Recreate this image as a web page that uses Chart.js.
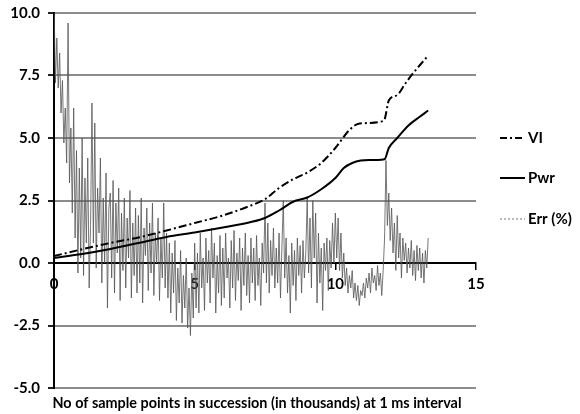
<!DOCTYPE html>
<html><head><meta charset="utf-8">
<script src="https://cdn.jsdelivr.net/npm/chart.js@4/dist/chart.umd.min.js"></script>
<style>html,body{margin:0;padding:0;background:#fff}canvas{display:block}</style>
</head><body><canvas id="c" width="580" height="414"></canvas>
<script>
// ---- data ----
const xTitle = "No of sample points in succession (in thousands) at 1 ms interval";
const seriesNames = ["VI", "Pwr", "Err (%)"];

const viX  = [0, 1, 2, 3, 4, 5, 6, 7, 7.5, 8, 8.5, 9, 9.5, 10, 10.5, 10.8, 11.2, 11.6, 11.75, 11.9, 12.2, 12.5, 12.8, 13.3];
const viY  = [0.28, 0.55, 0.8, 1.02, 1.3, 1.6, 1.9, 2.3, 2.55, 3.0, 3.35, 3.62, 4.0, 4.6, 5.32, 5.56, 5.6, 5.65, 5.75, 6.5, 6.72, 7.2, 7.64, 8.3];

const pwrX = [0, 0.5, 1, 2, 3, 4, 5, 6, 7, 7.5, 8, 8.5, 9, 9.5, 10, 10.3, 10.6, 10.9, 11.2, 11.5, 11.75, 11.9, 12.2, 12.6, 13.0, 13.3];
const pwrY = [0.2, 0.28, 0.36, 0.56, 0.8, 1.04, 1.22, 1.42, 1.64, 1.8, 2.1, 2.45, 2.62, 2.95, 3.4, 3.8, 4.0, 4.1, 4.12, 4.12, 4.15, 4.6, 5.0, 5.5, 5.85, 6.1];

// Err (%) sampled every 0.05 thousand points, starting at 0
const errStart = 0, errStep = 0.05;
const errY = [
 10.5, 7.2, 9.0, 7.0, 8.4, 6.0, 7.3, 4.8, 6.2, 4.0, 9.6, 3.2, 5.4, 2.0, 6.2, 1.0, 4.5, -0.4, 3.8, 0.2,
 5.0, -0.5, 3.4, 0.8, 4.2, -1.0, 1.5, 6.4, 0.8, 5.6, -0.2, 3.0, 1.2, 4.2, -0.8, 2.6, 0.0, 3.6, -1.8, 2.2,
 2.8, -0.6, 3.3, -1.2, 2.4, 0.4, 3.0, -1.5, 2.0, -0.3, 2.6, -1.0, 1.8, 0.2, 2.9, -1.4, 1.6, -0.5, 2.2, -1.2,
 1.9, -0.8, 2.6, -1.6, 1.4, 0.3, 2.2, -1.1, 1.6, -0.4, 2.4, -1.3, 1.2, 0.0, 1.8, -1.5, 1.0, -0.6, 2.4, -1.0,
 1.2, -1.4, 0.8, -2.0, 0.4, -1.2, 0.9, -2.3, -0.2, -1.6, 0.5, -2.4, -0.5, -1.8, 0.2, -2.6, -1.0, -2.9, -0.4, -2.2,
 0.8, -1.8, 0.4, -2.0, 1.2, -1.0, 0.2, -1.9, 1.0, -0.8, 0.5, -1.6, 1.4, -0.6, 0.8, -2.0, 0.3, -1.2, 1.1, -1.7,
 0.6, -1.4, 1.2, -0.6, 0.2, -1.8, 0.9, -1.0, 1.3, -1.5, 0.4, -0.7, 1.0, -1.9, 0.6, -0.9, 1.2, -1.3, 0.3, -1.6,
 1.0, -0.8, 0.6, -1.5, 1.1, -0.9, 0.2, -1.7, 0.8, -0.4, 2.4, -0.8, 1.6, -1.2, 0.9, -0.5, 1.4, -1.0, 0.6, -0.8,
 1.2, -1.4, 0.6, 2.5, -0.6, 1.0, -1.2, 0.3, -2.0, 0.8, -0.9, 0.5, -1.5, 1.0, -0.5, 0.7, -1.2, 0.9, -0.6, 0.4,
 2.6, -0.4, 1.8, -1.0, 2.5, 0.2, 2.0, -1.6, 1.2, -0.8, 0.6, -1.9, 0.8, -0.3, 1.0, -1.1, 0.9, -0.2, 1.6, 0.0,
 2.0, 0.2, 1.8, -0.3, 1.2, -0.6, 0.4, -0.9, -0.2, -1.2, -0.5, -1.0, -0.3, -1.4, -0.8, -1.5, -0.9, -1.7, -1.1, -1.3,
 -0.8, -1.4, -0.6, -1.0, -0.4, -1.2, -0.2, -0.8, -0.5, -1.1, -0.1, -0.9, -0.4, -1.3, -0.3, 1.0, 4.1, 1.5, 2.8, 0.9,
 2.2, 0.4, 1.6, -0.3, 1.9, 0.2, 1.2, -0.6, 1.0, 0.1, 0.8, -0.4, 0.6, -0.2, 0.9, -0.5, 0.5, -0.7, 0.7, -0.3,
 0.6, -0.6, 0.4, -0.8, 0.5, -0.2, 1.0
];

const xMin = 0, xMax = 15, xStep = 5;
const yMin = -5, yMax = 10, yStep = 2.5;

// ---- build library tables ----
const pts = (xs, ys) => ys.map((y, i) => ({x: xs[i], y}));
const errPts = errY.map((y, i) => ({x: +(errStart + i * errStep).toFixed(2), y}));

const FONT = "Lato, 'Open Sans', sans-serif";

const annotPlugin = {
  id: 'sideLegend',
  afterDraw(chart) {
    const ctx = chart.ctx;
    const items = [
      {y: 138, dash: [7, 3, 2, 3], w: 2, c: '#000'},
      {y: 178, dash: [], w: 2, c: '#000'},
      {y: 219, dash: [2, 2], w: 1, c: '#777'}
    ];
    ctx.save();
    items.forEach((it, i) => {
      ctx.beginPath();
      ctx.setLineDash(it.dash);
      ctx.lineWidth = it.w;
      ctx.strokeStyle = it.c;
      ctx.moveTo(500, it.y);
      ctx.lineTo(525, it.y);
      ctx.stroke();
      ctx.setLineDash([]);
      ctx.fillStyle = '#000';
      ctx.font = "bold 15px " + FONT;
      ctx.textBaseline = 'middle';
      ctx.textAlign = 'left';
      ctx.fillText(seriesNames[i], 528, it.y);
    });
    // x-axis title, below the plot
    ctx.font = "bold 14.4px " + FONT;
    ctx.textAlign = 'center';
    ctx.textBaseline = 'middle';
    ctx.fillText(xTitle, 257, 403);
    ctx.restore();
  }
};

new Chart(document.getElementById('c'), {
  type: 'line',
  data: {
    datasets: [
      {label: seriesNames[0], data: pts(viX, viY), borderColor: '#000', borderWidth: 2,
       borderDash: [8, 3, 2, 3], pointRadius: 0, cubicInterpolationMode: 'monotone', fill: false, order: 1},
      {label: seriesNames[1], data: pts(pwrX, pwrY), borderColor: '#000', borderWidth: 2,
       pointRadius: 0, cubicInterpolationMode: 'monotone', fill: false, order: 0},
      {label: seriesNames[2], data: errPts, borderColor: 'rgba(85,85,85,0.8)', borderWidth: 1,
       pointRadius: 0, tension: 0, fill: false, order: 2}
    ]
  },
  options: {
    responsive: false,
    animation: false,
    events: [],
    layout: {padding: {left: 0, right: 104, top: 13, bottom: 26}},
    plugins: {legend: {display: false}, tooltip: {enabled: false}, title: {display: false}},
    scales: {
      x: {
        type: 'linear', min: xMin, max: xMax, position: {y: 0},
        ticks: {stepSize: xStep, color: '#000', font: {family: FONT, size: 15, weight: 'bold'}, padding: 6,
                callback: v => String(v)},
        grid: {drawOnChartArea: false, tickLength: 6, color: '#000', lineWidth: 1.5},
        border: {color: '#000', width: 2}
      },
      y: {
        min: yMin, max: yMax,
        ticks: {stepSize: yStep, color: '#000', font: {family: FONT, size: 15, weight: 'bold'}, padding: 8,
                callback: v => Number(v).toFixed(1)},
        grid: {color: ctx => ctx.tick && ctx.tick.value === 0 ? '#000' : '#8c8c8c', lineWidth: 2,
               tickLength: 6, tickColor: '#222'},
        border: {color: '#000', width: 2},
        afterFit: s => { s.width = 54; s.paddingTop = 0; s.paddingBottom = 0; }
      }
    }
  },
  plugins: [annotPlugin]
});
</script></body></html>
